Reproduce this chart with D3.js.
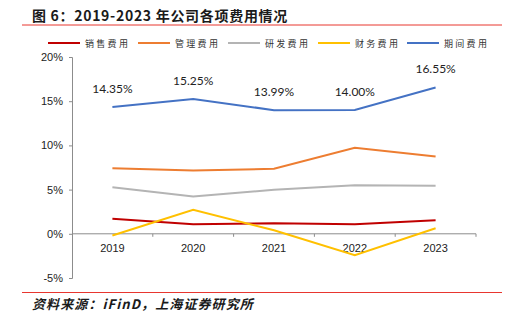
<!DOCTYPE html>
<html>
<head>
<meta charset="utf-8">
<script src="https://cdn.jsdelivr.net/npm/d3@7"></script>
<style>
  body { margin: 0; background: #fff; }
  svg { display: block; }
</style>
</head>
<body>
<div id="chart"></div>
<script>
// 2019-2023 年公司各项费用情况
var w = 515, h = 323;

var years = ["2019", "2020", "2021", "2022", "2023"];
var names = ["销售费用", "管理费用", "研发费用", "财务费用", "期间费用"];
var colors = ["#c00000", "#ed7d31", "#b4b4b4", "#ffc000", "#4472c4"];
var sales   = [1.70, 1.09, 1.20, 1.09, 1.54];
var admin   = [7.42, 7.16, 7.35, 9.73, 8.74];
var rnd     = [5.27, 4.22, 4.98, 5.50, 5.43];
var finance = [-0.19, 2.71, 0.40, -2.42, 0.63];
var period  = [14.35, 15.25, 13.99, 14.00, 16.55];
var yTicks = [-5, 0, 5, 10, 15, 20];

var series = [sales, admin, rnd, finance, period];

var svg = d3.select("#chart").append("svg")
  .attr("width", w).attr("height", h);

// title
svg.append("text").attr("x", 32).attr("y", 21)
  .attr("font-family", "'Noto Sans CJK SC', sans-serif")
  .attr("font-weight", "bold").attr("font-size", 14).attr("letter-spacing", 0.7)
  .attr("fill", "#1a1a1a")
  .text("图 6：2019-2023 年公司各项费用情况");
svg.append("line").attr("x1", 22).attr("x2", 502).attr("y1", 25).attr("y2", 25)
  .attr("stroke", "#e8362f").attr("stroke-width", 1);

var x = d3.scaleBand().domain(years).range([72, 476]);
var y = d3.scaleLinear().domain([-5, 20]).range([278, 57]);

// y axis
var yAxis = svg.append("g").attr("transform", "translate(72,0)")
  .call(d3.axisLeft(y).tickValues(yTicks).tickSize(3).tickPadding(6)
    .tickFormat(function(d) { return d + "%"; }));
yAxis.selectAll("text").attr("font-family", "'Liberation Sans', Arial, sans-serif")
  .attr("font-size", 11).attr("fill", "#222");
yAxis.selectAll("line, path").attr("stroke", "#8c8c8c");

// x axis at 0
var xAxis = svg.append("g").attr("transform", "translate(0," + y(0) + ")")
  .call(d3.axisBottom(x).tickSize(0).tickPadding(10));
xAxis.select("path").attr("stroke", "#8c8c8c").attr("d", "M72,0H476");
xAxis.selectAll("text").attr("font-family", "'Liberation Sans', Arial, sans-serif")
  .attr("font-size", 11).attr("fill", "#222");
var bounds = years.map(function(d) { return x(d) + x.bandwidth(); });
xAxis.selectAll("line.sep").data(bounds).enter().append("line")
  .attr("class", "sep").attr("x1", function(d) { return d; }).attr("x2", function(d) { return d; })
  .attr("y1", 0).attr("y2", 3).attr("stroke", "#8c8c8c");

// lines
var line = d3.line()
  .x(function(d, i) { return x(years[i]) + x.bandwidth() / 2; })
  .y(function(d) { return y(d); });

svg.selectAll("path.series").data(series).enter().append("path")
  .attr("class", "series")
  .attr("d", line)
  .attr("fill", "none")
  .attr("stroke", function(d, i) { return colors[i]; })
  .attr("stroke-width", 2);

// data labels for 期间费用
svg.selectAll("text.lbl").data(period).enter().append("text")
  .attr("class", "lbl")
  .attr("x", function(d, i) { return x(years[i]) + x.bandwidth() / 2; })
  .attr("y", function(d) { return y(d) - 14; })
  .attr("text-anchor", "middle")
  .attr("font-family", "Lato, 'Liberation Sans', sans-serif")
  .attr("font-size", 12).attr("fill", "#222")
  .text(function(d) { return d.toFixed(2) + "%"; });

// legend
var legX = [48, 138, 228, 318, 407];
var leg = svg.selectAll("g.leg").data(names).enter().append("g")
  .attr("class", "leg")
  .attr("transform", function(d, i) { return "translate(" + legX[i] + ",43)"; });
leg.append("line").attr("x1", 0).attr("x2", 32).attr("y1", 0).attr("y2", 0)
  .attr("stroke", function(d, i) { return colors[i]; }).attr("stroke-width", 2);
leg.append("text").attr("x", 37).attr("y", 3.5)
  .attr("font-family", "'Noto Sans CJK SC', sans-serif")
  .attr("font-size", 9).attr("letter-spacing", 2.3).attr("fill", "#333")
  .text(function(d) { return d; });

// source
svg.append("line").attr("x1", 22).attr("x2", 502).attr("y1", 292.5).attr("y2", 292.5)
  .attr("stroke", "#e8362f").attr("stroke-width", 1);
svg.append("text").attr("x", 32).attr("y", 309)
  .attr("font-family", "'Noto Sans CJK SC', sans-serif")
  .attr("font-weight", "bold").attr("font-style", "italic")
  .attr("font-size", 13).attr("letter-spacing", 1.1).attr("fill", "#1a1a1a")
  .text("资料来源：iFinD，上海证券研究所");
</script>
</body>
</html>
